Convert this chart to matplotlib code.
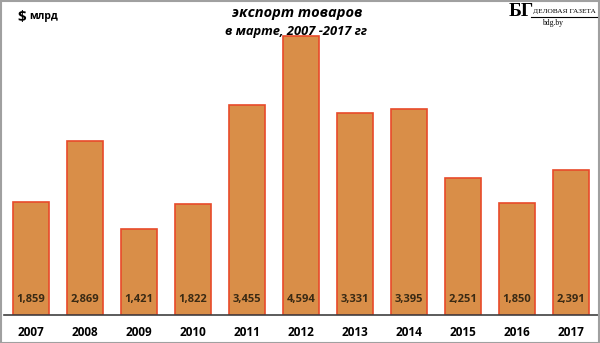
import matplotlib
matplotlib.use('Agg')
import matplotlib.pyplot as plt
from matplotlib.patches import Rectangle

years = ['2007', '2008', '2009', '2010', '2011', '2012', '2013', '2014', '2015', '2016', '2017']
export_bln = [1.859, 2.869, 1.421, 1.822, 3.455, 4.594, 3.331, 3.395, 2.251, 1.850, 2.391]
value_labels = ['1,859', '2,869', '1,421', '1,822', '3,455', '4,594', '3,331', '3,395', '2,251', '1,850', '2,391']

plt.rcParams['font.family'] = ['Open Sans', 'DejaVu Sans']

def main():
    fig = plt.figure(figsize=(6, 3.43), dpi=100)
    W, H = 600, 343

    # plot area: x 4..598 px, baseline at y=315 px
    ax = fig.add_axes([4 / W, (H - 315) / H, 594 / W, 303.5 / H])
    xs = list(range(len(years)))
    ax.bar(xs, export_bln, width=0.667, color='#D98E48', edgecolor='#E84A2A', linewidth=1.2)
    ax.set_xlim(-0.5, len(years) - 0.5)
    ax.set_ylim(0, 5)
    ax.set_xticks([])
    ax.set_yticks([])
    for s in ['top', 'right', 'left']:
        ax.spines[s].set_visible(False)
    ax.spines['bottom'].set_color('#404040')
    ax.spines['bottom'].set_linewidth(1.2)

    for x, lab in zip(xs, value_labels):
        ax.annotate(lab, (x, 0), xytext=(0, 11), textcoords='offset points',
                    ha='center', va='center', fontsize=8, fontweight='bold', color='#3A2A14')

    for x, yr in zip(xs, years):
        ax.annotate(yr, (x, 0), xytext=(0, -12.5), textcoords='offset points',
                    ha='center', va='center', fontsize=8.5, fontweight='bold', color='black')

    # titles
    fig.text(297 / W, 1 - 13 / H, 'экспорт товаров', ha='center', va='center',
             fontsize=10.5, fontweight='bold', style='italic')
    fig.text(296 / W, 1 - 31 / H, 'в марте, 2007 -2017 гг', ha='center', va='center',
             fontsize=9.3, fontweight='bold', style='italic')
    fig.text(17 / W, 1 - 17 / H, '$', ha='left', va='center', fontsize=11, fontweight='bold')
    fig.text(29 / W, 1 - 17 / H, 'млрд', ha='left', va='center', fontsize=7.5, fontweight='bold')

    # logo
    fig.text(509 / W, 1 - 11 / H, 'БГ', ha='left', va='center', fontsize=14, fontweight='bold',
             family='Liberation Serif')
    fig.text(564 / W, 1 - 12 / H, 'ДЕЛОВАЯ ГАЗЕТА', ha='center', va='center', fontsize=5.3,
             family='Liberation Serif')
    fig.add_artist(plt.Line2D([531 / W, 597 / W], [1 - 17 / H, 1 - 17 / H], color='black', lw=0.8))
    fig.text(553 / W, 1 - 23 / H, 'bdg.by', ha='center', va='center', fontsize=5.5,
             family='Liberation Serif')

    # outer frame
    fig.add_artist(Rectangle((0.5 / W, 0.5 / H), 1 - 1.5 / W, 1 - 1.5 / H, transform=fig.transFigure,
                             fill=False, edgecolor='#A0A0A0', lw=1.5))

    fig.savefig('out.png', dpi=100)

if __name__ == '__main__':
    main()
